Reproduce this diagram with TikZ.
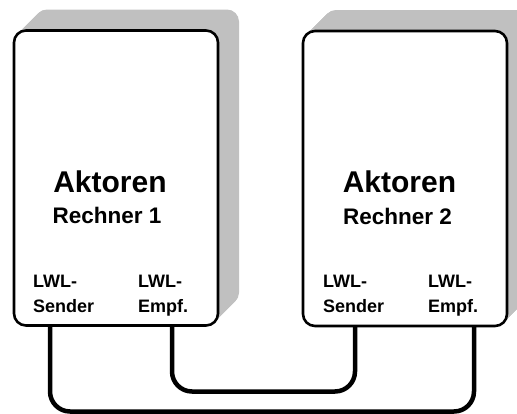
\documentclass[tikz,border=0pt]{standalone}
\usepackage{fontspec}
\setmainfont{Liberation Sans}
\usetikzlibrary{backgrounds,calc}
\definecolor{depthgray}{RGB}{192,192,192}
\begin{document}
\begin{tikzpicture}[x=1pt,y=-1pt,
  unit/.style={draw=black, fill=white, line width=2.6pt, rounded corners=12pt,
    minimum width=204pt, minimum height=295pt, inner sep=0pt, outer sep=0pt},
  title/.style={font=\fontsize{30}{30}\selectfont\bfseries, inner sep=0pt, anchor=base},
  sub/.style={font=\fontsize{22.5}{22.5}\selectfont\bfseries, inner sep=0pt, anchor=base},
  port/.style={font=\fontsize{18}{25}\selectfont\bfseries, inner sep=0pt, align=left, anchor=base west},
  cable/.style={draw=black, line width=4.5pt, rounded corners=20pt}]
  \useasboundingbox (0,0) rectangle (517,413);
  \clip (0,0) rectangle (517,413);

  % the two computer units
  \node[unit] (b1) at (116,178) {};
  \node[unit] (b2) at (405,178.5) {};

  % unit titles
  \node[title] (a1) at (110,192) {Aktoren};
  \node[sub]   (r1) at (107,223) {Rechner 1};
  \node[title] (a2) at (399.5,192) {Aktoren};
  \node[sub]   (r2) at (397.5,224) {Rechner 2};

  % fibre-optic ports (base anchor sits on the last line)
  \node[port] (s1) at (33,312)  {LWL-\\Sender};
  \node[port] (e1) at (138,312) {LWL-\\Empf.};
  \node[port] (s2) at (323,312) {LWL-\\Sender};
  \node[port] (e2) at (428,312) {LWL-\\Empf.};

  % cable attachment points on the bottom edges
  \path (b1.south west) ++(36,0) coordinate (t1);
  \path (b1.south west) ++(158,0) coordinate (u1);
  \path (b2.south west) ++(52,0) coordinate (t2);
  \path (b2.south west) ++(171,0) coordinate (u2);

  \begin{scope}[on background layer]
    % extruded grey depth behind each unit
    \foreach \i in {0,0.5,...,21} {
      \fill[depthgray, rounded corners=12pt]
        ([shift={(\i,-\i)}]b1.south west) rectangle ([shift={(\i,-\i)}]b1.north east);
      \fill[depthgray, rounded corners=12pt]
        ([shift={(\i,-\i)}]b2.south west) rectangle ([shift={(\i,-\i)}]b2.north east);
    }
    % fibre links: sender 1 -> receiver 2, receiver 1 <- sender 2
    \draw[cable] (t1) -- ($(t1)+(0,86)$) -| (u2);
    \draw[cable] (u1) -- ($(u1)+(0,66)$) -| (t2);
  \end{scope}
\end{tikzpicture}
\end{document}
